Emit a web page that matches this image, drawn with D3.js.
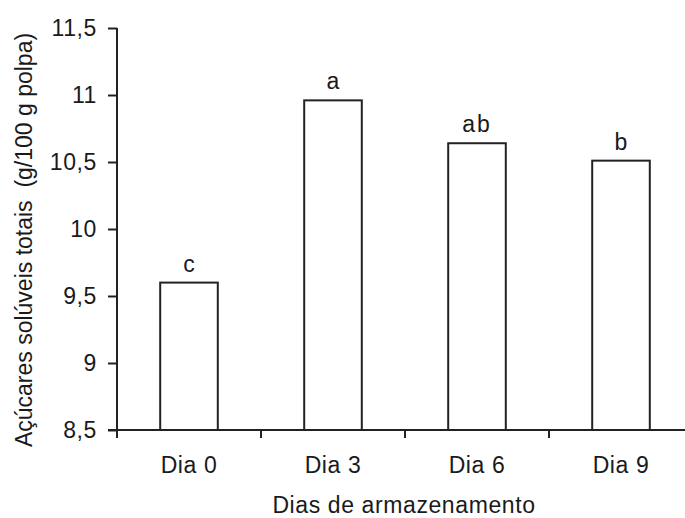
<!DOCTYPE html>
<html>
<head>
<meta charset="utf-8">
<script src="https://cdn.jsdelivr.net/npm/d3@7"></script>
<style>
  html, body { margin: 0; padding: 0; background: #fff; }
  svg { display: block; }
  text { font-family: "Liberation Sans", Arial, sans-serif; fill: #1a1a1a; }
</style>
</head>
<body>
<svg id="chart" width="685" height="518"></svg>
<script>
const categories = ["Dia 0", "Dia 3", "Dia 6", "Dia 9"];
const values = [9.6, 10.96, 10.64, 10.51];
const letters = ["c", "a", "ab", "b"];
const yTicks = [8.5, 9, 9.5, 10, 10.5, 11, 11.5];
const yTickLabels = ["8,5", "9", "9,5", "10", "10,5", "11", "11,5"];
const xTitle = "Dias de armazenamento";
const yTitle = "Açúcares solúveis totais  (g/100 g polpa)";

const svg = d3.select("#chart");
const W = 685, H = 518;
const x0 = 117, yBottom = 430, yTop = 28;
const fs = 23;
const ls = 0.6;

const x = d3.scaleBand().domain(categories).range([x0, x0 + 4 * 144]).paddingInner(0.6).paddingOuter(0.3);
const y = d3.scaleLinear().domain([8.5, 11.5]).range([yBottom, yTop]);

svg.append("rect").attr("width", W).attr("height", H).attr("fill", "#fff");

const stroke = "#222";

// bars
svg.selectAll("rect.bar").data(values).enter().append("rect")
  .attr("class", "bar")
  .attr("x", (d, i) => x(categories[i]))
  .attr("width", x.bandwidth())
  .attr("y", d => y(d))
  .attr("height", d => y(8.5) - y(d))
  .attr("fill", "#fff")
  .attr("stroke", stroke)
  .attr("stroke-width", 2);

// letters
svg.selectAll("text.let").data(values).enter().append("text")
  .attr("class", "let")
  .attr("x", (d, i) => x(categories[i]) + x.bandwidth() / 2)
  .attr("y", d => y(d) - 11)
  .attr("text-anchor", "middle")
  .attr("font-size", fs)
  .attr("letter-spacing", (d, i) => letters[i].length > 1 ? 2 : 0)
  .text((d, i) => letters[i]);

// y axis
const yAxis = d3.axisLeft(y).tickValues(yTicks)
  .tickFormat((d, i) => yTickLabels[i]).tickSize(9).tickPadding(11).tickSizeOuter(0);
const gy = svg.append("g").attr("transform", `translate(${x0},0)`).call(yAxis);
gy.select(".domain").remove();
gy.selectAll(".tick line").attr("stroke", stroke).attr("stroke-width", 2);
gy.selectAll(".tick text").attr("font-size", fs).attr("letter-spacing", ls)
  .attr("font-family", "Liberation Sans, Arial, sans-serif").attr("fill", "#1a1a1a");
svg.append("line").attr("x1", x0).attr("x2", x0).attr("y1", yTop).attr("y2", yBottom + 8)
  .attr("stroke", stroke).attr("stroke-width", 2);

// x axis
const xAxis = d3.axisBottom(x).tickSize(0).tickPadding(27);
const gx = svg.append("g").attr("transform", `translate(0,${yBottom})`).call(xAxis);
gx.select(".domain").remove();
gx.selectAll(".tick text").attr("font-size", fs).attr("letter-spacing", ls)
  .attr("font-family", "Liberation Sans, Arial, sans-serif").attr("fill", "#1a1a1a");
svg.append("line").attr("x1", 108).attr("x2", W).attr("y1", yBottom).attr("y2", yBottom)
  .attr("stroke", stroke).attr("stroke-width", 2);
// separator ticks between categories
const seps = categories.slice(1).map(c => x(c) - x.step() * x.paddingInner() / 2);
svg.selectAll("line.sep").data(seps).enter().append("line")
  .attr("class", "sep")
  .attr("x1", d => d).attr("x2", d => d)
  .attr("y1", yBottom).attr("y2", yBottom + 8)
  .attr("stroke", stroke).attr("stroke-width", 2);

// titles
svg.append("text").attr("x", 404).attr("y", 513).attr("text-anchor", "middle")
  .attr("font-size", fs).attr("letter-spacing", ls).text(xTitle);
svg.append("text").attr("transform", "translate(32,240) rotate(-90)")
  .attr("text-anchor", "middle").attr("font-size", fs)
  .style("white-space", "pre").text(yTitle);
</script>
</body>
</html>
